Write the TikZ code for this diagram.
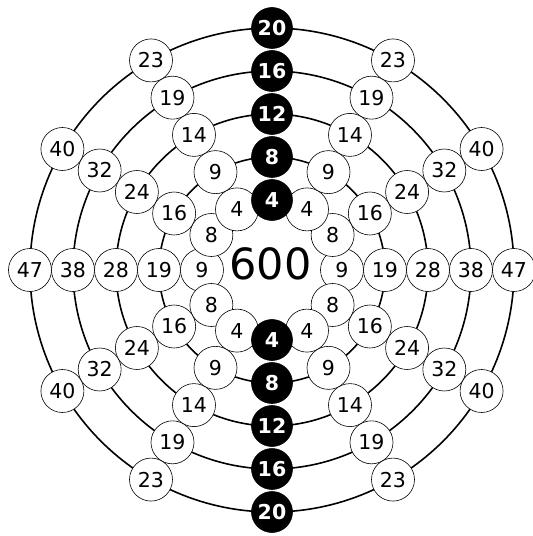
\documentclass[tikz,border=0pt]{standalone}
\usepackage{fontspec}
\setmainfont{DejaVu Sans}

\begin{document}
\begin{tikzpicture}[x=1pt,y=1pt,
    ring/.style={line width=1.6pt},
    dot/.style={circle, draw, line width=0.6pt, fill=white, minimum size=43pt, inner sep=0pt, font=\fontsize{20.5}{22}\selectfont},
    axisdot/.style={dot, fill=black, text=white, minimum size=41pt, font=\fontsize{20.5}{22}\selectfont\bfseries}]
\useasboundingbox (-272,-266) rectangle (261,270);
\coordinate (o) at (0,0);
\foreach \k in {1,...,5}
  \draw[ring] (o) circle[radius=27+43*\k];
\node[font=\fontsize{43}{45}\selectfont] (total) at (-1.5,6.5) {600};
\foreach \k/\a/\b/\c in {1/4/8/9, 2/9/16/19, 3/14/24/28, 4/19/32/38, 5/23/40/47}{
  \pgfmathsetmacro\r{27+43*\k}
  \pgfmathtruncatemacro\n{4*\k}
  \foreach \t in {0,180} \node[dot] (c\k-\t) at (\t:\r) {\c};
  \foreach \t in {30,150,210,330} \node[dot] (b\k-\t) at (\t:\r) {\b};
  \foreach \t in {60,120,240,300} \node[dot] (a\k-\t) at (\t:\r) {\a};
  \foreach \t in {90,270} \node[axisdot] (n\k-\t) at (\t:\r) {\n};
}
\end{tikzpicture}
\end{document}
